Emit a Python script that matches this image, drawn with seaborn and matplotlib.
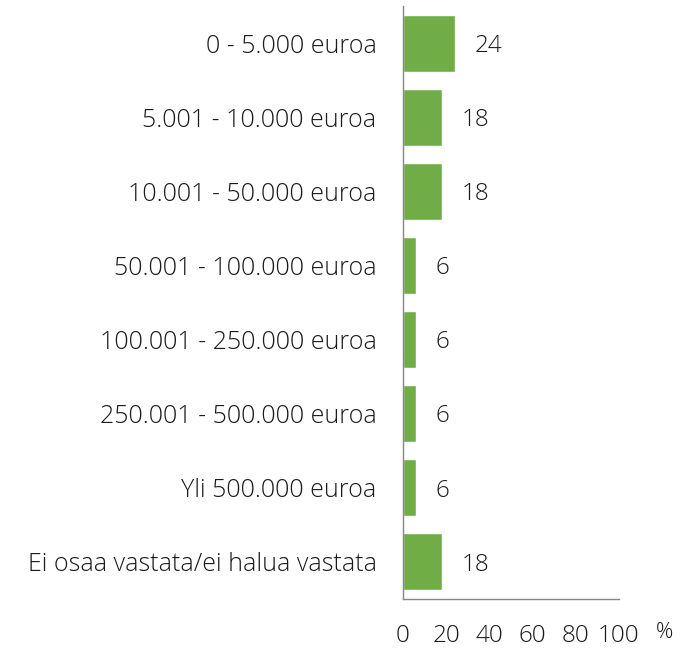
import numpy as np
import pandas as pd
import matplotlib
matplotlib.use("Agg")
import matplotlib.pyplot as plt
import seaborn as sns

# =======================
# Data
# =======================
categories = [
    "0 - 5.000 euroa",
    "5.001 - 10.000 euroa",
    "10.001 - 50.000 euroa",
    "50.001 - 100.000 euroa",
    "100.001 - 250.000 euroa",
    "250.001 - 500.000 euroa",
    "Yli 500.000 euroa",
    "Ei osaa vastata/ei halua vastata",
]
values = [24, 18, 18, 6, 6, 6, 6, 18]
x_ticks = [0, 20, 40, 60, 80, 100]

df = pd.DataFrame({"category": categories, "value": values})

# =======================
# Style
# =======================
sns.set_style("white")
plt.rcParams["font.family"] = ["Open Sans", "DejaVu Sans"]
plt.rcParams["font.weight"] = "light"
GREEN = "#70AD47"
GREY = "#868686"
TEXT = "#1a1a1a"
FS_Y = 18
FS = 17.5

fig = plt.figure(figsize=(6.88, 6.49), dpi=100)
ax = fig.add_axes([403 / 688, 50 / 649, 216 / 688, 593 / 649])

sns.barplot(data=df, x="value", y="category", orient="h", color=GREEN,
            width=0.77, saturation=1, ax=ax)

ax.set_xlim(0, 100)
ax.set_ylim(len(categories) - 0.5, -0.5)
ax.set_xlabel("")
ax.set_ylabel("")

# spines
for side in ["top", "right"]:
    ax.spines[side].set_visible(False)
for side in ["left", "bottom"]:
    ax.spines[side].set_color(GREY)
    ax.spines[side].set_linewidth(1.0)

# y axis: labels at centers, tick marks at category boundaries
ax.set_yticks(np.arange(len(categories)))
ax.set_yticklabels(categories, fontsize=FS_Y, color=TEXT, fontweight="light")
ax.tick_params(axis="y", which="major", length=0, pad=19)
ax.set_yticks(np.arange(len(categories) + 1) - 0.5, minor=True)
ax.tick_params(axis="y", which="minor", length=6.5, width=1, color=GREY)

# x axis
ax.set_xticks(x_ticks)
ax.set_xticklabels([str(t) for t in x_ticks], fontsize=FS, color=TEXT,
                   fontweight="light")
ax.tick_params(axis="x", length=0, pad=18)
ax.text(1.21, -0.056, "%", transform=ax.transAxes, fontsize=FS - 2,
        color=TEXT, ha="center", va="center", fontweight="light")

# value labels
for i, v in enumerate(values):
    ax.annotate(str(v), (v, i), xytext=(14, -2), textcoords="offset points",
                ha="left", va="center", fontsize=FS, color=TEXT,
                fontweight="light")

fig.savefig("out.png", dpi=100)
